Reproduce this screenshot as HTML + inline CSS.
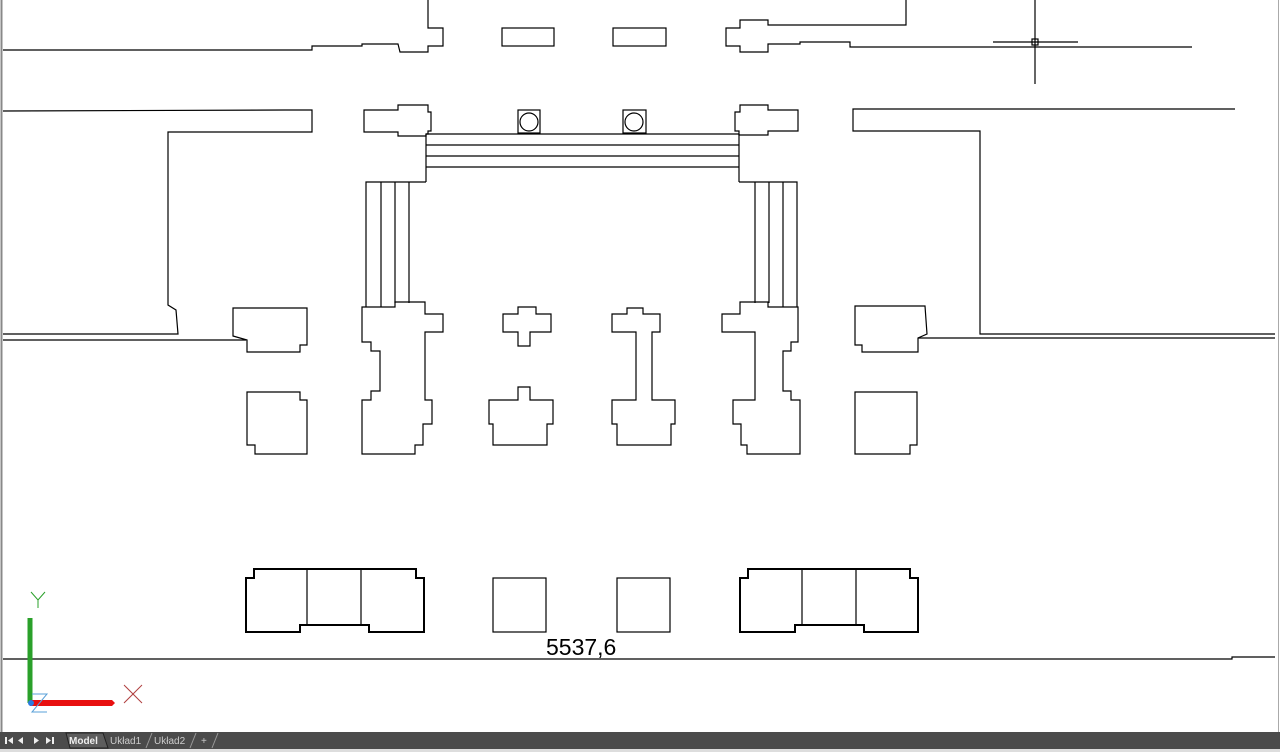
<!DOCTYPE html>
<html><head><meta charset="utf-8"><style>
html,body{margin:0;padding:0;background:#fff;}
body{width:1280px;height:752px;overflow:hidden;position:relative;font-family:"Liberation Sans",sans-serif;}
svg{position:absolute;left:0;top:0;}
</style></head><body>
<svg width="1280" height="752" viewBox="0 0 1280 752">
<rect x="0" y="0" width="1280" height="752" fill="#fff"/>
<line x1="1.5" y1="0" x2="1.5" y2="732" stroke="#888" stroke-width="2"/>
<line x1="1278.5" y1="0" x2="1278.5" y2="732" stroke="#aaa" stroke-width="1"/>
<g fill="none" stroke="#000" stroke-width="1.2">
<polyline points="3,50 312,50 312,46 362,46 362,44 398,44 400,52 428,52 428,46 443,46 443,28 428,28 428,0"/>
<rect x="502" y="28" width="52" height="18"/>
<rect x="613" y="28" width="53" height="18"/>
<polyline points="906,0 906,25 768,25 768,20 740,20 740,28 726,28 726,46 740,46 740,52 768,52 768,44 800,44 800,42 850,42 850,47 1192,47"/>
<line x1="993" y1="42" x2="1078" y2="42"/>
<line x1="1035" y1="0" x2="1035" y2="84"/>
<rect x="1032" y="39" width="6" height="6"/>
<polyline points="3,111 285,110 312,110 312,132 168,132 168,305 176,310 178,334 3,334"/>
<line x1="3" y1="340" x2="246" y2="340"/>
<polyline points="1235,109 853,109 853,131 980,131 980,334 1275,334"/>
<line x1="918" y1="338" x2="1275" y2="338"/>
<polygon points="364,110 398,110 398,105 428,105 428,112 431,112 431,131 428,131 428,134 426,134 426,136 398,136 398,132 364,132"/>
<polygon points="739,134 739,131 735,131 735,112 740,112 740,105 768,105 768,110 798,110 798,131 768,131 768,135 739,135"/>
<line x1="426" y1="134" x2="739" y2="134"/>
<line x1="426" y1="145" x2="739" y2="145"/>
<line x1="426" y1="156" x2="739" y2="156"/>
<line x1="426" y1="167" x2="739" y2="167"/>
<line x1="426" y1="134" x2="426" y2="182"/>
<line x1="739" y1="134" x2="739" y2="182"/>
<rect x="518" y="110" width="22" height="23"/><circle cx="529" cy="122" r="9"/>
<rect x="623" y="110" width="23" height="23"/><circle cx="634" cy="122" r="9"/>
<polyline points="366,307 366,182 426,182"/>
<line x1="381" y1="182" x2="381" y2="307"/>
<line x1="395" y1="182" x2="395" y2="303"/>
<line x1="409" y1="182" x2="409" y2="303"/>
<polyline points="797,307 797,182 739,182"/>
<line x1="783" y1="182" x2="783" y2="307"/>
<line x1="769" y1="182" x2="769" y2="303"/>
<line x1="755" y1="182" x2="755" y2="303"/>
<polygon points="362,307 362,342 371,342 371,351 380,351 380,391 371,391 371,400 362,400 362,454 415,454 415,445 423,445 423,424 432,424 432,400 425,400 425,332 443,332 443,314 425,314 425,302 395,302 395,307"/>
<polygon points="503,314 518,314 518,307 536,307 536,314 551,314 551,332 530,332 530,346 518,346 518,332 503,332"/>
<polygon points="518,387 530,387 530,400 553,400 553,424 547,424 547,445 493,445 493,424 489,424 489,400 518,400"/>
<polygon points="612,314 627,314 627,308 643,308 643,314 660,314 660,332 652,332 652,400 675,400 675,424 671,424 671,445 617,445 617,424 612,424 612,400 636,400 636,332 612,332"/>
<polygon points="722,314 740,314 740,302 768,302 768,307 798,307 798,342 791,342 791,351 783,351 783,391 791,391 791,400 800,400 800,454 747,454 747,445 741,445 741,424 733,424 733,400 755,400 755,332 722,332"/>
<polygon points="233,308 307,308 307,345 300,345 300,352 247,352 247,340 233,336"/>
<polygon points="855,306 925,306 927,334 918,338 918,352 862,352 862,345 855,345"/>
<polygon points="247,392 300,392 300,400 307,400 307,454 255,454 255,445 247,445"/>
<polygon points="855,392 917,392 917,445 910,445 910,454 855,454"/>
<rect x="493" y="578" width="53" height="54"/>
<rect x="617" y="578" width="53" height="54"/>
<line x1="307" y1="569" x2="307" y2="625"/><line x1="361" y1="569" x2="361" y2="625"/>
<line x1="802" y1="569" x2="802" y2="625"/><line x1="856" y1="569" x2="856" y2="625"/>
<line x1="300" y1="625" x2="369" y2="625"/><line x1="795" y1="625" x2="864" y2="625"/>
<polyline points="3,659 1232,659 1232,657 1275,657"/>
</g>
<g fill="none" stroke="#000" stroke-width="2">
<polygon points="254,569 416,569 416,578 424,578 424,632 369,632 369,625 300,625 300,632 246,632 246,578 254,578"/>
<polygon points="748,569 910,569 910,578 918,578 918,632 864,632 864,625 795,625 795,632 740,632 740,578 748,578"/>
</g>
<text x="546" y="655" font-size="23" fill="#000" font-family="Liberation Sans, sans-serif">5537,6</text>
<line x1="30" y1="618" x2="30" y2="703" stroke="#2aa02a" stroke-width="5"/>
<polygon points="30,700 112,700 115,703 112,706 30,706" fill="#e81010"/>
<circle cx="31" cy="703" r="3" fill="#2a7be0"/>
<g stroke="#5aa0d8" stroke-width="1" fill="none"><polyline points="32,694 47,694 32,712 47,712"/></g>
<g stroke="#2aa02a" stroke-width="1" fill="none"><polyline points="31,592 38,600 45,592"/><line x1="38" y1="600" x2="38" y2="608"/></g>
<g stroke="#b04040" stroke-width="1"><line x1="124" y1="685" x2="142" y2="703"/><line x1="142" y1="685" x2="124" y2="703"/></g>
<rect x="0" y="732" width="1280" height="17" fill="#4b4b4b"/>
<rect x="0" y="749" width="1280" height="3" fill="#ddd"/>
<g fill="#eee">
<rect x="5" y="737" width="2" height="7"/><polygon points="13,737 8,740.5 13,744"/>
<polygon points="23,737 18,740.5 23,744"/>
<polygon points="34,737 39,740.5 34,744"/>
<polygon points="46,737 51,740.5 46,744"/><rect x="52" y="737" width="2" height="7"/>
</g>
<polygon points="66,733 103,733 108,748 70,748" fill="#5d5d5d" stroke="#222"/>
<text x="69" y="744" font-size="10" font-weight="bold" fill="#eee">Model</text>
<text x="110" y="744" font-size="10" fill="#ccc">Układ1</text>
<line x1="146" y1="748" x2="152" y2="733" stroke="#999"/>
<text x="154" y="744" font-size="10" fill="#ccc">Układ2</text>
<line x1="190" y1="748" x2="196" y2="733" stroke="#999"/>
<text x="201" y="744" font-size="10" fill="#ccc">+</text>
<line x1="212" y1="748" x2="218" y2="733" stroke="#999"/>
</svg>
</body></html>
